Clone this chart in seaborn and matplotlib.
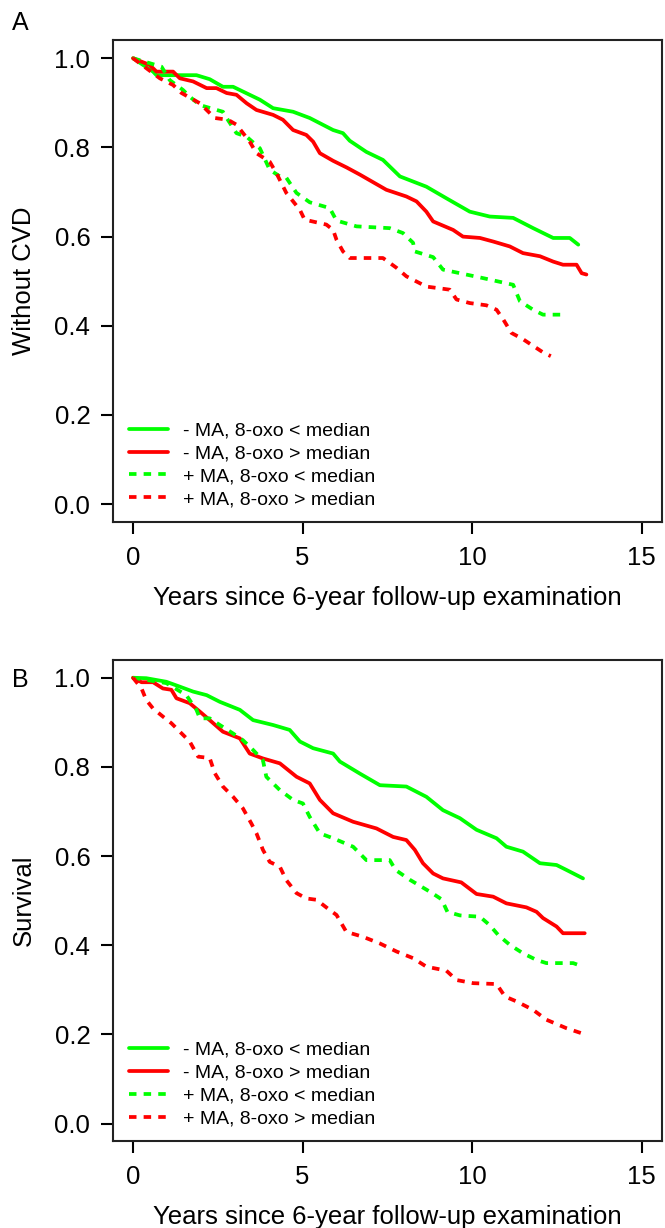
import matplotlib
matplotlib.use("Agg")
import matplotlib.pyplot as plt
import seaborn as sns

# Kaplan-Meier curves (years, proportion)
labels = ["- MA, 8-oxo < median", "- MA, 8-oxo > median",
          "+ MA, 8-oxo < median", "+ MA, 8-oxo > median"]
colors = ["#00FF00", "#FF0000", "#00FF00", "#FF0000"]

# Panel A: without CVD
a_neg_low_t = [0, 0.59, 0.69, 1.87, 2.26, 2.65, 2.95, 3.44, 3.74, 4.13, 4.72, 5.21, 5.90, 6.19, 6.39,
               6.88, 7.37, 7.87, 8.65, 9.24, 9.93, 10.52, 11.21, 11.80, 12.39, 12.88, 13.13]
a_neg_low_s = [1.0, 0.970, 0.962, 0.962, 0.953, 0.936, 0.936, 0.918, 0.907, 0.888, 0.880, 0.866, 0.839,
               0.832, 0.815, 0.790, 0.772, 0.735, 0.712, 0.686, 0.656, 0.645, 0.642, 0.619, 0.597, 0.597, 0.582]

a_neg_high_t = [0, 0.49, 0.69, 1.18, 1.38, 1.77, 2.17, 2.46, 2.76, 3.05, 3.35, 3.64, 4.13, 4.42, 4.72,
                5.11, 5.31, 5.51, 5.90, 6.30, 6.69, 7.08, 7.47, 8.06, 8.36, 8.65, 8.85, 9.44, 9.73,
                10.23, 10.62, 11.11, 11.50, 12.0, 12.39, 12.68, 13.08, 13.23, 13.37]
a_neg_high_s = [1.0, 0.985, 0.970, 0.970, 0.955, 0.948, 0.933, 0.933, 0.922, 0.918, 0.899, 0.884, 0.873,
                0.862, 0.839, 0.828, 0.813, 0.787, 0.770, 0.755, 0.739, 0.722, 0.705, 0.690, 0.679,
                0.656, 0.634, 0.615, 0.600, 0.597, 0.589, 0.578, 0.563, 0.556, 0.544, 0.537, 0.537,
                0.518, 0.515]

a_pos_low_t = [0, 0.84, 1.08, 1.47, 1.67, 1.97, 2.65, 2.76, 3.05, 3.35, 3.74, 4.03, 4.33, 4.52, 4.82,
               5.21, 5.80, 6.0, 6.59, 7.57, 7.96, 8.26, 8.30, 8.85, 9.14, 10.32, 11.21, 11.41, 11.80,
               12.09, 12.78]
a_pos_low_s = [1.0, 0.981, 0.951, 0.929, 0.914, 0.895, 0.880, 0.866, 0.832, 0.824, 0.798, 0.750, 0.735,
               0.732, 0.698, 0.677, 0.664, 0.636, 0.623, 0.619, 0.608, 0.586, 0.567, 0.554, 0.526,
               0.507, 0.492, 0.455, 0.436, 0.425, 0.425]

a_pos_high_t = [0, 0.79, 1.18, 1.43, 1.97, 2.41, 2.80, 3.05, 3.44, 3.64, 4.03, 4.23, 4.52, 4.92, 5.06,
                5.70, 5.90, 6.0, 6.19, 6.39, 7.37, 7.77, 8.06, 8.65, 9.34, 9.54, 9.93, 10.42, 10.72,
                10.92, 11.16, 11.5, 11.8, 12.1, 12.32]
a_pos_high_s = [1.0, 0.955, 0.940, 0.922, 0.899, 0.866, 0.862, 0.851, 0.813, 0.787, 0.768, 0.742, 0.698,
                0.660, 0.638, 0.627, 0.615, 0.593, 0.567, 0.552, 0.552, 0.530, 0.511, 0.488, 0.481,
                0.459, 0.451, 0.446, 0.436, 0.414, 0.384, 0.370, 0.355, 0.340, 0.332]

# Panel B: survival
b_neg_low_t = [0, 0.39, 0.98, 1.38, 1.77, 2.17, 2.56, 3.15, 3.54, 4.13, 4.62, 4.92, 5.31, 5.90, 6.10,
               6.69, 7.28, 8.06, 8.65, 9.14, 9.64, 10.13, 10.72, 11.01, 11.50, 12.0, 12.49, 12.78, 13.27]
b_neg_low_s = [1.0, 0.999, 0.991, 0.980, 0.969, 0.961, 0.946, 0.928, 0.905, 0.894, 0.883, 0.857, 0.842,
               0.830, 0.812, 0.785, 0.759, 0.756, 0.733, 0.703, 0.685, 0.659, 0.640, 0.621, 0.610,
               0.584, 0.580, 0.569, 0.550]

b_neg_high_t = [0, 0.25, 0.59, 0.88, 1.13, 1.28, 1.67, 1.97, 2.26, 2.65, 3.15, 3.44, 3.83, 4.33, 4.82,
                5.21, 5.51, 5.90, 6.49, 7.18, 7.67, 8.06, 8.31, 8.55, 8.85, 9.14, 9.68, 10.13, 10.62,
                11.01, 11.60, 11.90, 12.09, 12.49, 12.68, 13.32]
b_neg_high_s = [1.0, 0.990, 0.990, 0.976, 0.973, 0.954, 0.943, 0.924, 0.905, 0.879, 0.864, 0.830, 0.819,
                0.808, 0.778, 0.763, 0.726, 0.696, 0.677, 0.662, 0.643, 0.636, 0.614, 0.584, 0.561,
                0.550, 0.541, 0.515, 0.509, 0.494, 0.485, 0.475, 0.461, 0.442, 0.427, 0.427]

b_pos_low_t = [0, 0.98, 1.57, 1.87, 1.97, 2.26, 2.56, 2.95, 3.24, 3.54, 3.83, 3.93, 4.33, 4.72, 5.01,
               5.21, 5.51, 5.90, 6.49, 6.88, 7.57, 7.74, 8.16, 8.80, 9.10, 9.27, 9.64, 10.23, 10.52,
               10.77, 11.11, 11.50, 11.90, 12.19, 12.98, 13.27]
b_pos_low_s = [1.0, 0.988, 0.961, 0.928, 0.909, 0.909, 0.894, 0.875, 0.860, 0.838, 0.815, 0.778, 0.748,
               0.726, 0.718, 0.688, 0.651, 0.640, 0.621, 0.591, 0.591, 0.569, 0.547, 0.518, 0.503,
               0.475, 0.467, 0.464, 0.445, 0.423, 0.401, 0.382, 0.367, 0.360, 0.360, 0.352]

b_pos_high_t = [0, 0.25, 0.39, 0.59, 0.88, 1.13, 1.38, 1.67, 1.92, 2.26, 2.41, 2.65, 2.95, 3.24, 3.49,
                3.64, 3.83, 4.03, 4.33, 4.52, 4.82, 5.11, 5.41, 5.80, 6.0, 6.29, 6.78, 7.28, 7.77,
                8.26, 8.65, 9.24, 9.54, 10.03, 10.72, 10.97, 11.31, 11.80, 12.19, 12.78, 13.37]
b_pos_high_s = [1.0, 0.976, 0.950, 0.931, 0.913, 0.898, 0.879, 0.857, 0.823, 0.820, 0.786, 0.756, 0.733,
                0.707, 0.673, 0.651, 0.614, 0.587, 0.576, 0.546, 0.517, 0.505, 0.502, 0.479, 0.468,
                0.430, 0.419, 0.404, 0.386, 0.371, 0.352, 0.343, 0.322, 0.315, 0.313, 0.285, 0.274,
                0.255, 0.233, 0.214, 0.199]

x_ticks = [0, 5, 10, 15]
y_ticks = [0.0, 0.2, 0.4, 0.6, 0.8, 1.0]
x_label = "Years since 6-year follow-up examination"

sns.set_style("ticks")
plt.rcParams["font.family"] = ["Liberation Sans", "DejaVu Sans"]
plt.rcParams["text.color"] = "black"
plt.rcParams["axes.labelcolor"] = "black"
plt.rcParams["xtick.color"] = "black"
plt.rcParams["ytick.color"] = "black"

fig = plt.figure(figsize=(6.65, 12.28), dpi=100)
ax_a = fig.add_axes([0.1695, 0.5749, 0.826, 0.3922])
ax_b = fig.add_axes([0.1695, 0.0705, 0.826, 0.3921])

panels = [
    (ax_a, "Without CVD", "A",
     [(a_neg_low_t, a_neg_low_s), (a_neg_high_t, a_neg_high_s),
      (a_pos_low_t, a_pos_low_s), (a_pos_high_t, a_pos_high_s)]),
    (ax_b, "Survival", "B",
     [(b_neg_low_t, b_neg_low_s), (b_neg_high_t, b_neg_high_s),
      (b_pos_low_t, b_pos_low_s), (b_pos_high_t, b_pos_high_s)]),
]

for ax, ylab, letter, curves in panels:
    for i, (t, s) in enumerate(curves):
        style = "-" if i < 2 else (0, (2.0, 1.9))
        sns.lineplot(x=t, y=s, ax=ax, color=colors[i], linewidth=2.7,
                     linestyle=style, label=labels[i], sort=False, estimator=None)
    ax.set_xlim(-0.6, 15.6)
    ax.set_ylim(-0.04, 1.04)
    ax.set_xticks(x_ticks)
    ax.set_xticklabels([str(v) for v in x_ticks])
    ax.set_yticks(y_ticks)
    ax.set_yticklabels([f"{v:.1f}" for v in y_ticks])
    ax.tick_params(axis="both", labelsize=18.5, length=8.6, width=1.5, color="black")
    ax.tick_params(axis="y", pad=7.5)
    ax.tick_params(axis="x", pad=8.5)
    for sp in ax.spines.values():
        sp.set_visible(True)
        sp.set_linewidth(1.5)
        sp.set_color("#222222")
    ax.set_xlabel(x_label, fontsize=18.5)
    ax.xaxis.set_label_coords(0.5, -0.133)
    ax.set_ylabel(ylab, fontsize=18.5)
    ax.yaxis.set_label_coords(-0.14, 0.5)
    ax.legend(loc="upper left", bbox_to_anchor=(0.0297, 0.208), frameon=False,
              fontsize=14, borderpad=0, borderaxespad=0, handlelength=2.0,
              handletextpad=0.8, labelspacing=0.27)
    pos = ax.get_position()
    ytext = pos.y1 + 0.0145 if letter == "A" else pos.y1 - 0.0165
    fig.text(20 / 665, ytext, letter, fontsize=18, ha="center", va="center")

fig.savefig("out.png", dpi=100)
